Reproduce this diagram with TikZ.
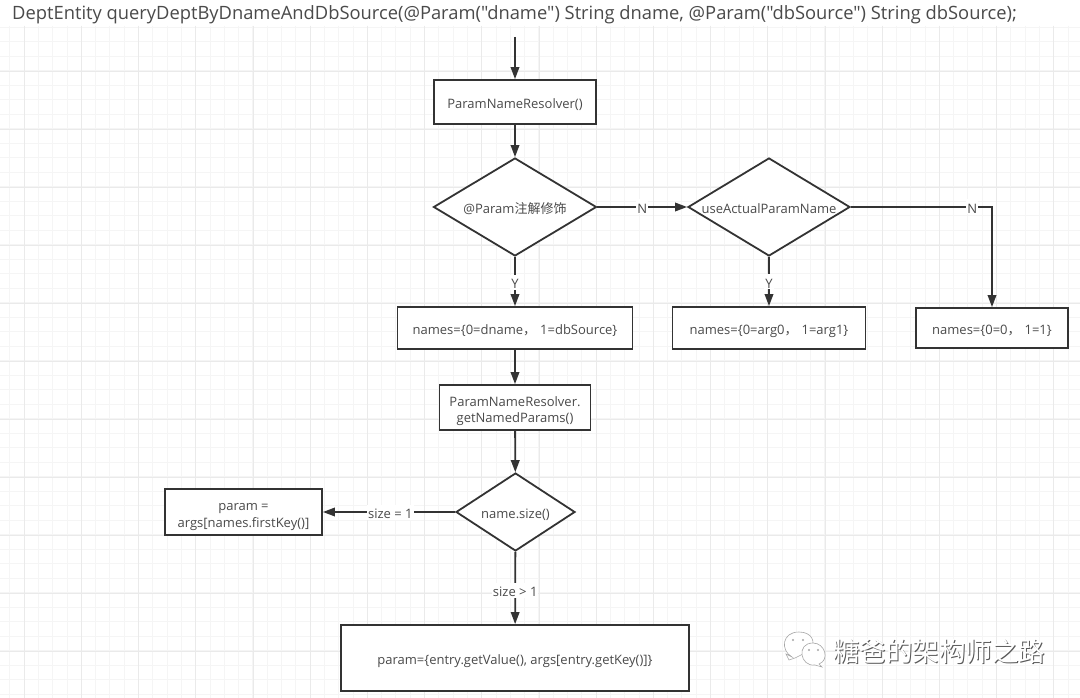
\documentclass[tikz,border=0pt]{standalone}
\usepackage{fontspec}
\setmainfont{Open Sans}
\newfontfamily\plainfont{Open Sans}
\newfontfamily\cjk{Noto Sans CJK SC}
\usetikzlibrary{arrows.meta, positioning, shapes.geometric}
\definecolor{inkline}{HTML}{333333}
\definecolor{inktext}{HTML}{4A4A4A}
\definecolor{gridminor}{HTML}{F5F5F5}
\definecolor{gridmajor}{HTML}{EAEAEA}
\newcommand{\wcomma}{{\cjk ，}\hspace{4pt}}
\tikzset{
	procbox/.style={draw=inkline, line width=1.8pt, fill=white, inner sep=0pt, text=inktext, font=\fontsize{13}{16.5}\selectfont, align=center, text depth=0pt, text height=13pt},
	twolines/.style={text height=30pt},
	decision/.style={diamond, aspect=1.65, draw=inkline, line width=1.8pt, fill=white, inner sep=0pt, text=inktext, font=\fontsize{13}{16}\selectfont, text depth=0pt, text height=13pt},
	flow/.style={draw=inkline, line width=1.8pt, -{Triangle[length=12pt,width=8.5pt]}},
	edgelabel/.style={fill=white, inner sep=1pt, text=inktext, font=\fontsize{13}{15}\selectfont, text depth=0pt, text height=13pt},
}
\begin{document}
\begin{tikzpicture}[x=1pt, y=-1pt]
	\useasboundingbox (0,0) rectangle (1080,698);
	\fill[white] (0,0) rectangle (1080,698);

	%grid:
	\foreach \n in {0,...,74}
		\draw[gridminor] (\n*14.3+9.5,26) -- (\n*14.3+9.5,698);
	\foreach \n in {0,...,46}
		\draw[gridminor] (0,\n*14.5+27) -- (1080,\n*14.5+27);
	\foreach \n in {0,...,18}
		\draw[gridmajor] (\n*57.2+24,26) -- (\n*57.2+24,698);
	\foreach \n in {0,...,11}
		\draw[gridmajor] (0,\n*58+71) -- (1080,\n*58+71);

	%title:
	\node[anchor=west, inner sep=0pt, text=inktext, font=\plainfont\fontsize{18.34}{22}\selectfont] (title) at (12,15) {DeptEntity queryDeptByDnameAndDbSource(@Param("dname") String dname, @Param("dbSource") String dbSource);};

	\coordinate (entry) at (515,37);
	\node[procbox, minimum width=162pt, minimum height=44pt] (resolver) at (515,102) {ParamNameResolver()};
	\node[decision, minimum width=163pt, minimum height=98pt] (hasparam) at (515,207) {@Param{\cjk 注解修饰}};
	\node[decision, minimum width=162pt, minimum height=98pt] (useactual) at (769,207) {useActualParamName};
	\node[procbox, minimum width=235pt, minimum height=42pt] (namesparam) at (515,328) {names=\{0=dname\wcomma 1=dbSource\}};
	\node[procbox, minimum width=193pt, minimum height=42pt] (namesarg) at (769,328) {names=\{0=arg0\wcomma 1=arg1\}};
	\node[procbox, minimum width=152pt, minimum height=40pt] (namesnum) at (992,328) {names=\{0=0\wcomma 1=1\}};
	\node[procbox, twolines, minimum width=151pt, minimum height=45pt] (getnamed) at (515,407.5) {ParamNameResolver.\\getNamedParams()};
	\node[decision, minimum width=119pt, minimum height=78pt] (namesize) at (515.5,512) {name.size()};
	\node[procbox, twolines, minimum width=157pt, minimum height=46pt] (paramone) at (243.5,512) {param =\\args[names.firstKey()]};
	\node[procbox, minimum width=348pt, minimum height=66pt] (parammany) at (515,658) {param=\{entry.getValue(), args[entry.getKey()]\}};

	\draw[flow] (entry) -- (resolver);
	\draw[flow] (resolver) -- (hasparam);
	\draw[flow] (hasparam) -- node[edgelabel]{N} (useactual);
	\draw[flow] (useactual) -| node[edgelabel, pos=0.43]{N} (namesnum);
	\draw[flow] (hasparam) -- node[edgelabel, pos=0.52]{Y} (namesparam);
	\draw[flow] (useactual) -- node[edgelabel, pos=0.5]{Y} (namesarg);
	\draw[flow] (namesparam) -- (getnamed);
	\draw[flow] (getnamed) -- (namesize);
	\draw[flow] (namesize) -- node[edgelabel, pos=0.49]{size = 1} (paramone);
	\draw[flow] (namesize) -- node[edgelabel, pos=0.53]{size > 1} (parammany);

	%watermark:
	\draw[gray!70, fill=white, line width=0.6pt] (786,654) -- (792,657) .. controls (780,650) and (782,632) .. (799,632) .. controls (812,632) and (816,642) .. (811,650) -- (795,658) -- (789,660) -- cycle;
	\draw[gray!70, fill=white, line width=0.6pt] (813,643) .. controls (825,643) and (830,660) .. (819,664) -- (822,667) -- (815,665) .. controls (800,667) and (796,643) .. (813,643) -- cycle;
	\foreach \ex/\ey in {793/640, 803/640, 809/650, 818/650}
		\fill[gray!70] (\ex,\ey) circle (1.1pt);
	\node[inner sep=0pt, text=gray!70!black, font=\cjk\fontsize{26.5}{30}\selectfont] (markshade) at (940,652) {糖爸的架构师之路};
	\node[inner sep=0pt, text=white, font=\cjk\fontsize{26.5}{30}\selectfont] (mark) at (939,651) {糖爸的架构师之路};
\end{tikzpicture}
\end{document}
